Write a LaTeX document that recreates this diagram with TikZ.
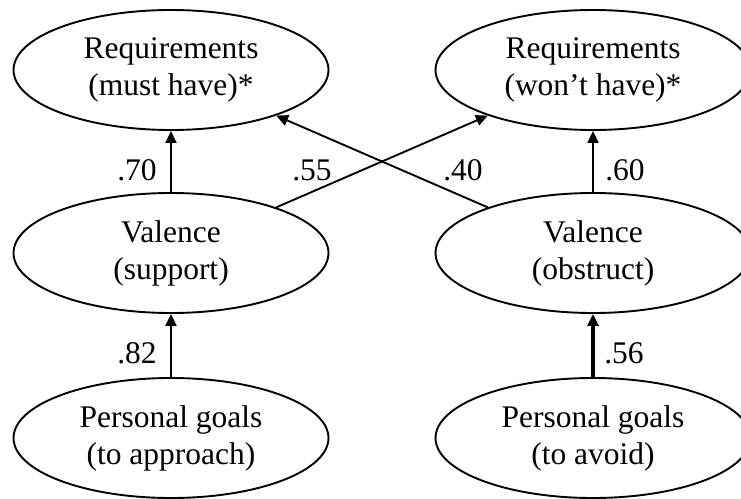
\documentclass[tikz,border=0pt]{standalone}
\usepackage{fontspec}
\setmainfont{Liberation Serif}
\usetikzlibrary{shapes.geometric,arrows.meta}
\begin{document}
\begin{tikzpicture}[x=1pt,y=-1pt,
  construct/.style={draw, ellipse, line width=1.9pt, minimum width=315pt,
    minimum height=120pt, inner sep=0pt, align=center,
    font=\fontsize{31.5}{37}\selectfont},
  path/.style={line width=1.9pt, -{Triangle[length=12pt,width=11pt]}},
  strongpath/.style={path, line width=3.2pt},
  coef/.style={font=\fontsize{31.5}{37}\selectfont, inner sep=0pt}]
  \useasboundingbox (0,0) rectangle (741,498);

  % outcome constructs
  \node[construct] (rm) at (171,70) {Requirements\\(must have)*};
  \node[construct] (rw) at (593,70) {Requirements\\(won’t have)*};
  % mediators
  \node[construct] (vs) at (171,253) {Valence\\(support)};
  \node[construct] (vo) at (593,253) {Valence\\(obstruct)};
  % predictors
  \node[construct] (pa) at (171,438) {Personal goals\\(to approach)};
  \node[construct] (pv) at (593,438) {Personal goals\\(to avoid)};

  % structural paths
  \draw[path] (vs) -- (rm);
  \draw[path] (vo) -- (rw);
  \draw[path] (vs) -- (rw);
  \draw[path] (vo) -- (rm);
  \draw[path] (pa) -- (vs);
  \draw[strongpath] (pv) -- (vo);

  % path coefficients
  \node[coef] (c1) at (137,170) {.70};
  \node[coef] (c2) at (312,170) {.55};
  \node[coef] (c3) at (463,170) {.40};
  \node[coef] (c4) at (625,170) {.60};
  \node[coef] (c5) at (137,353) {.82};
  \node[coef] (c6) at (624,353) {.56};
\end{tikzpicture}
\end{document}
